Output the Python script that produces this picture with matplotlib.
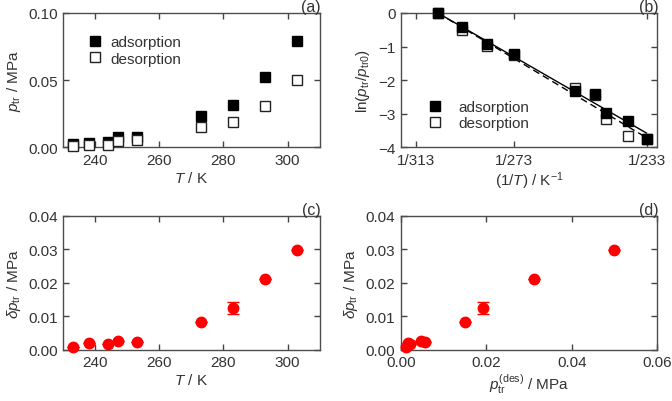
import numpy as np
import matplotlib
matplotlib.use("Agg")
import matplotlib.pyplot as plt

plt.rcParams['font.family'] = ['Liberation Sans', 'DejaVu Sans']
plt.rcParams['mathtext.fontset'] = 'custom'
plt.rcParams['mathtext.rm'] = 'Liberation Sans'
plt.rcParams['mathtext.it'] = 'Liberation Sans:italic'
plt.rcParams['font.size'] = 11
plt.rcParams['text.color'] = '#333333'
plt.rcParams['axes.labelcolor'] = '#333333'
plt.rcParams['xtick.color'] = '#444444'
plt.rcParams['ytick.color'] = '#444444'
plt.rcParams['xtick.labelcolor'] = '#333333'
plt.rcParams['ytick.labelcolor'] = '#333333'

# temperatures (K)
T = np.array([233, 238, 244, 247, 253, 273, 283, 293, 303])

# transition pressures (MPa)
p_ads = np.array([0.0021, 0.0035, 0.0038, 0.0073, 0.0080, 0.0234, 0.0316, 0.0522, 0.0794])
p_des = np.array([0.0012, 0.0016, 0.0020, 0.0047, 0.0056, 0.0150, 0.0192, 0.0311, 0.0498])

# ln(p_tr / p_tr0)
ln_ads = np.array([-3.76, -3.23, -2.97, -2.42, -2.33, -1.22, -0.91, -0.43, 0.0])
ln_des = np.array([-3.76, -3.65, -3.15, -2.43, -2.24, -1.25, -0.97, -0.50, 0.0])

# hysteresis width (MPa) and its error
dp = np.array([0.0009, 0.0019, 0.0017, 0.0026, 0.0024, 0.0084, 0.0124, 0.0212, 0.0298])
dp_err = np.array([0.0, 0.0, 0.0, 0.0, 0.0, 0.0, 0.0018, 0.0, 0.0])

SPINE = '#4d4d4d'
RED = '#ff0000'
FS = 11


def style(ax, tag):
    for s in ax.spines.values():
        s.set_color(SPINE)
        s.set_linewidth(1.0)
    ax.tick_params(direction='in', length=4, width=1.0, top=True, right=True,
                   labelsize=FS, pad=4)
    ax.text(1.005, 0.99, tag, transform=ax.transAxes, ha='right', va='bottom',
            fontsize=11.5)


fig = plt.figure(figsize=(6.72, 4.02), dpi=100)
ax_a = fig.add_axes([0.0942, 0.6311, 0.3813, 0.3341])
ax_b = fig.add_axes([0.5967, 0.6311, 0.3817, 0.3341])
ax_c = fig.add_axes([0.0942, 0.1274, 0.3813, 0.3336])
ax_d = fig.add_axes([0.5967, 0.1274, 0.3817, 0.3336])

# (a)
ax_a.plot(T, p_ads, 's', ms=6.5, color='black', label='adsorption', clip_on=False, zorder=3)
ax_a.plot(T, p_des, 's', ms=6.5, mfc='white', mec='#222222', mew=1.0,
          label='desorption', clip_on=False, zorder=4)
ax_a.set_xlim(230, 310)
ax_a.set_ylim(0, 0.10)
ax_a.set_xticks([240, 260, 280, 300])
ax_a.set_yticks([0.0, 0.05, 0.10])
ax_a.set_yticklabels(['0.00', '0.05', '0.10'])
ax_a.set_xlabel(r'$T$ / K', labelpad=2)
ax_a.set_ylabel(r'$p_{\rm tr}$ / MPa')
ax_a.legend(loc='upper left', bbox_to_anchor=(0.07, 0.88), frameon=False,
            handlelength=1.0, handletextpad=0.5, labelspacing=0.15, fontsize=FS,
            borderaxespad=0)
style(ax_a, '(a)')

# (b)
x = 1.0 / T
x0 = 1.0 / T[-1]
dx = x - x0
k_ads = np.sum(dx * ln_ads) / np.sum(dx * dx)
k_des = np.sum(dx * ln_des) / np.sum(dx * dx)
xl = np.array([x0, x.max()])
ax_b.plot(xl, k_ads * (xl - x0), '-', color='black', lw=1.0, zorder=2)
ax_b.plot(xl, k_des * (xl - x0), color='black', lw=1.0, ls=(0, (5, 3)), zorder=2)
ax_b.plot(x, ln_des, 's', ms=6.5, mfc='white', mec='#222222', mew=1.0,
          label='desorption', clip_on=False, zorder=3)
ax_b.plot(x, ln_ads, 's', ms=6.5, color='black', label='adsorption', clip_on=False, zorder=4)
ax_b.set_xlim(1 / 320, 1 / 230.2)
ax_b.set_ylim(-4, 0)
ax_b.set_xticks([1 / 313, 1 / 273, 1 / 233])
ax_b.set_xticklabels(['1/313', '1/273', '1/233'])
ax_b.set_yticks([0, -1, -2, -3, -4])
ax_b.set_yticklabels(['0', '\u22121', '\u22122', '\u22123', '\u22124'])
ax_b.set_xlabel(r'(1/$T$) / K$^{-1}$', labelpad=2)
ax_b.set_ylabel(r'ln($p_{\rm tr}$/$p_{\rm tr0}$)')
h, l = ax_b.get_legend_handles_labels()
ax_b.legend(h[::-1], l[::-1], loc='lower left', bbox_to_anchor=(0.08, 0.08), frameon=False,
            handlelength=1.0, handletextpad=1.0, labelspacing=0.15, fontsize=FS,
            borderaxespad=0)
style(ax_b, '(b)')

# (c)
ax_c.errorbar(T, dp, yerr=dp_err, fmt='none', ecolor=RED, elinewidth=1.0,
              capsize=4, capthick=1.0, zorder=2)
ax_c.plot(T, dp, 'o', ms=7.5, color=RED, clip_on=False, zorder=3)
ax_c.set_xlim(230, 310)
ax_c.set_ylim(0, 0.04)
ax_c.set_xticks([240, 260, 280, 300])
ax_c.set_yticks([0.0, 0.01, 0.02, 0.03, 0.04])
ax_c.set_yticklabels(['0.00', '0.01', '0.02', '0.03', '0.04'])
ax_c.set_xlabel(r'$T$ / K', labelpad=2)
ax_c.set_ylabel(r'$\delta p_{\rm tr}$ / MPa')
style(ax_c, '(c)')

# (d)
ax_d.errorbar(p_des, dp, yerr=dp_err, fmt='none', ecolor=RED, elinewidth=1.0,
              capsize=4, capthick=1.0, zorder=2)
ax_d.plot(p_des, dp, 'o', ms=7.5, color=RED, clip_on=False, zorder=3)
ax_d.set_xlim(0, 0.06)
ax_d.set_ylim(0, 0.04)
ax_d.set_xticks([0.0, 0.02, 0.04, 0.06])
ax_d.set_xticklabels(['0.00', '0.02', '0.04', '0.06'])
ax_d.set_yticks([0.0, 0.01, 0.02, 0.03, 0.04])
ax_d.set_yticklabels(['0.00', '0.01', '0.02', '0.03', '0.04'])
ax_d.set_xlabel(r'$p_{\rm tr}^{\rm (des)}$ / MPa', labelpad=2)
ax_d.set_ylabel(r'$\delta p_{\rm tr}$ / MPa')
style(ax_d, '(d)')

fig.savefig('out.png', dpi=100)
